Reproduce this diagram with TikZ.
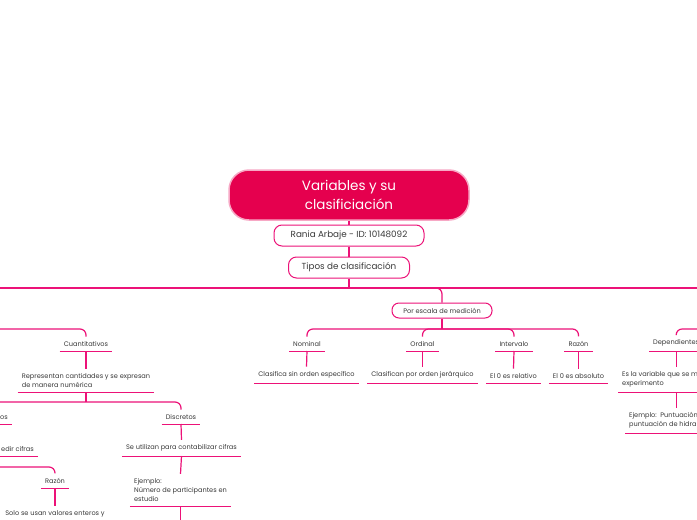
\documentclass[tikz,border=0pt]{standalone}
\usepackage{fontspec}
\setmainfont{Poppins}
\definecolor{MMred}{HTML}{E5004E}
\definecolor{MMpink}{HTML}{EC1278}
\definecolor{MMglow}{HTML}{F7A8C5}
\definecolor{MMtext}{HTML}{3A3A3A}

\tikzset{
  link/.style={draw=MMpink, line width=1.2pt, rounded corners=6pt},
  uline/.style={draw=MMpink, line width=1pt},
  titlebox/.style={fill=MMred, draw=MMglow, line width=1.5pt, rounded corners=20pt,
    minimum width=240pt, minimum height=50pt, text=white, align=center,
    font=\fontsize{13.5}{18.5}\selectfont},
  keybox/.style={fill=white, draw=MMpink, line width=1pt, rounded corners=8pt,
    minimum height=21pt, text=MMtext, font=\fontsize{8.8}{10}\selectfont},
  subbox/.style={fill=white, draw=MMpink, line width=1pt, rounded corners=7pt,
    minimum width=100pt, minimum height=15pt, text=MMtext, font=\fontsize{6.6}{8}\selectfont},
  topic/.style={anchor=south, inner xsep=4pt, inner ysep=4.5pt, text=MMtext, align=left,
    font=\fontsize{6.6}{8.8}\selectfont,
    append after command={(\tikzlastnode.south west) edge[uline] (\tikzlastnode.south east)}},
}

\begin{document}
\begin{tikzpicture}[x=1pt, y=-1pt]
    \useasboundingbox[fill=white] (0,0) rectangle (697,520);
    \clip (0,0) rectangle (697,520);

    % Centre
    \node[titlebox] (title) at (349,195) {Variables y su\\clasificiación};
    \node[keybox, minimum width=150pt] (autor) at (349,235.5) {Rania Arbaje - ID: 10148092};
    \node[keybox, minimum width=121pt] (tipos) at (349,267.5) {Tipos de clasificación};

    \draw[link] (title.south) -- (autor.north);
    \draw[link] (autor.south) -- (tipos.north);

    % Main bus
    \coordinate (busL) at (0,288);
    \coordinate (busR) at (697,288);
    \draw[link] (tipos.south) -- (tipos.south |- busL);
    \draw[link] (busL) -- (busR);

    % Por escala de medicion
    \node[subbox] (escala) at (442,310.5) {Por escala de medición};
    \draw[link] (tipos.south |- busL) -| (escala.north);

    \node[topic] (nominal) at (307,351) {Nominal};
    \node[topic] (ordinal) at (422.5,351) {Ordinal};
    \node[topic] (intervalo) at (514,351) {Intervalo};
    \node[topic] (razonE) at (578.5,351) {Razón};
    \coordinate (escBus) at (442,329);
    \draw[link] (escala.south) -- (escBus);
    \draw[link] (nominal.north) |- (escBus) -| (razonE.north);
    \draw[link] (escBus) -| (ordinal.north);
    \draw[link] (escBus) -| (intervalo.north);

    \node[topic] (nomDesc) at (306.5,383) {Clasifica sin orden específico};
    \node[topic] (ordDesc) at (422.5,383) {Clasifican por orden jerárquico};
    \node[topic] (intDesc) at (513.5,383) {El 0 es relativo};
    \node[topic] (razDesc) at (578.5,383) {El 0 es absoluto};
    \draw[link] (nominal.south) -- (nomDesc.north);
    \draw[link] (ordinal.south) -- (ordDesc.north);
    \draw[link] (intervalo.south) -- (intDesc.north);
    \draw[link] (razonE.south) -- (razDesc.north);

    % Cuantitativos
    \coordinate (cuaBus) at (0,329);
    \node[topic] (cuanti) at (86,351) {Cuantitativos};
    \draw[link] (cuaBus) -| (cuanti.north);
    \node[topic] (cuaDesc) at (86,392) {Representan cantidades y se expresan\\de manera numérica};
    \draw[link] (cuanti.south) -- (cuaDesc.north);

    \coordinate (cuaSplit) at (86,402);
    \coordinate (cuaSplitL) at (0,402);
    \node[topic, anchor=south east] (contin) at (12,424) {os};
    \node[topic] (discr) at (181,424) {Discretos};
    \draw[link] (cuaDesc.south) -- (cuaSplit);
    \draw[link] (cuaSplitL) -- (cuaSplit) -| (discr.north);

    \node[topic, anchor=south east] (contDesc) at (38,456) {edir cifras};
    \node[topic] (discDesc) at (181.5,456) {Se utilizan para contabilizar cifras};
    \draw[link] (discr.south) -- (discDesc.north);

    \coordinate (contBus) at (0,467);
    \node[topic] (razonC) at (55,488) {Razón};
    \draw[link] (contBus) -| (razonC.north);
    \node[topic] (razCDesc) at (55,522) {Solo se usan valores enteros y};
    \draw[link] (razonC.south) -- (razCDesc.north);

    \node[topic] (discEj) at (180.5,506) {Ejemplo:\\Número de participantes en\\estudio};
    \draw[link] (discDesc.south) -- (discEj.north);
    \coordinate (discEjEnd) at (180.5,520);
    \draw[link] (discEj.south) -- (discEjEnd);

    % Dependientes
    \coordinate (depBus) at (697,329);
    \node[topic, anchor=south west] (depend) at (649,351) {Dependientes};
    \draw[link] (depBus) -| (depend.north);
    \node[topic, anchor=south west] (depDesc) at (618,392) {Es la variable que se m\\experimento};
    \draw[link] (depend.south) -- (depend.south |- depDesc.north);
    \node[topic, anchor=south west] (depEj) at (625,433) {Ejemplo:\ \ Puntuación\\puntuación de hidra};
    \draw[link] (depend.south |- depDesc.south) -- (depend.south |- depEj.north);
\end{tikzpicture}
\end{document}
